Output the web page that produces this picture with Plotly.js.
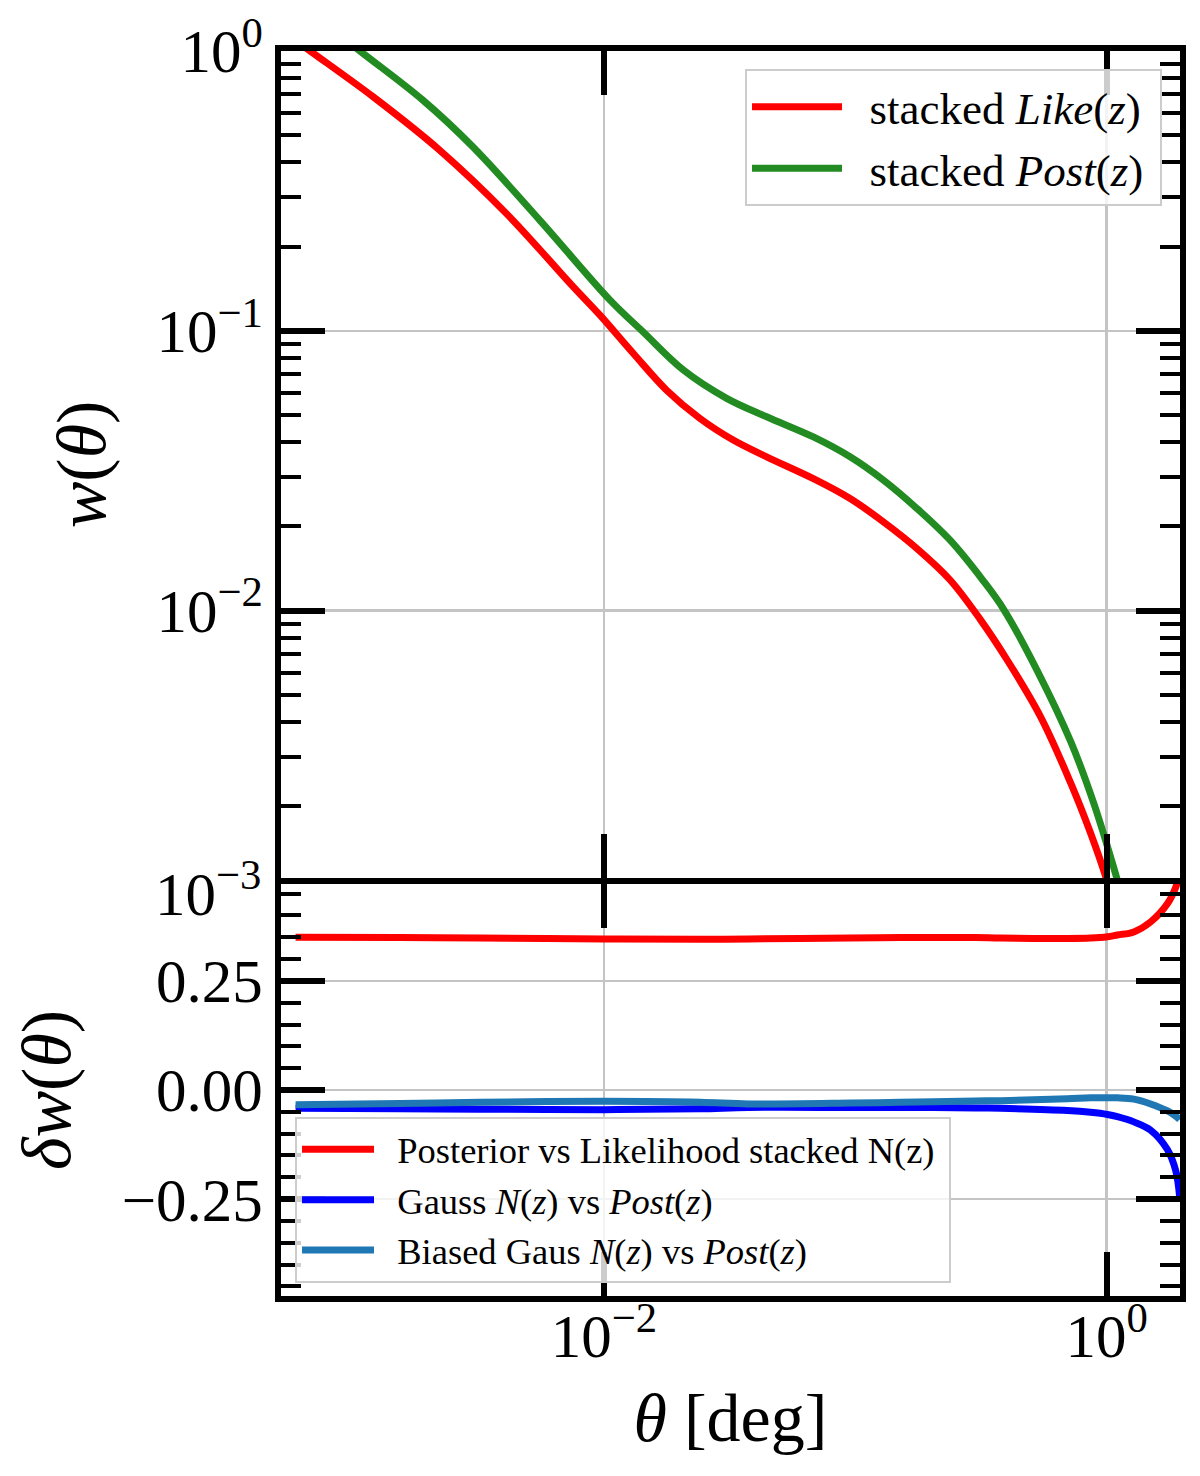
<!DOCTYPE html>
<html>
<head>
<meta charset="utf-8">
<script src="https://cdn.plot.ly/plotly-3.0.1.min.js"></script>
<style>html,body{margin:0;padding:0;background:#fff;}#chart{width:1200px;height:1476px;}</style>
</head>
<body>
<div id="chart"></div>
<script>
// ---- top panel: w(theta) ----
const likeTheta = [5.888e-4, 6.871e-4, 1.208e-3, 2.223e-3, 4.093e-3, 7.551e-3, 9.638e-3, 0.01309, 0.01774, 0.02410, 0.03266, 0.04436, 0.06808, 0.09528, 0.1291, 0.1754, 0.2382, 0.3133, 0.4018, 0.5458, 0.7194, 0.8630, 0.9908, 1.072];
const likeW     = [1.096, 0.9908, 0.6855, 0.4416, 0.2624, 0.1436, 0.1138, 0.08299, 0.06138, 0.04864, 0.04074, 0.03548, 0.02965, 0.02518, 0.02080, 0.01671, 0.01288, 0.009333, 0.006668, 0.004178, 0.002421, 0.001603, 0.001122, 0.000871];

const postTheta = [5.888e-4, 1.084e-3, 1.905e-3, 3.013e-3, 5.559e-3, 0.01057, 0.01432, 0.02070, 0.03076, 0.04436, 0.06808, 0.09528, 0.1291, 0.1754, 0.2382, 0.3228, 0.3890, 0.5284, 0.7194, 0.8892, 1.069, 1.148];
const postW     = [1.514, 0.9908, 0.6668, 0.4539, 0.2483, 0.1288, 0.09908, 0.07244, 0.05741, 0.04932, 0.04178, 0.03548, 0.02931, 0.02323, 0.01786, 0.01279, 0.01012, 0.006124, 0.003404, 0.002046, 0.001200, 0.000955];

// ---- bottom panel: delta w(theta) ----
const dTheta      = [5.93e-4, 1.54e-3, 3.2e-3, 0.01, 0.0241, 0.0375, 0.0955, 0.151, 0.30, 0.378, 0.697, 0.863, 1.007, 1.103, 1.282, 1.496, 1.746, 1.884, 1.95];
const dPostLike   = [0.350, 0.349, 0.348, 0.346, 0.345, 0.346, 0.348, 0.349, 0.349, 0.348, 0.347, 0.348, 0.351, 0.355, 0.362, 0.385, 0.427, 0.465, 0.495];
const dGauss      = [-0.042, -0.043, -0.044, -0.045, -0.043, -0.040, -0.040, -0.040, -0.041, -0.042, -0.047, -0.051, -0.056, -0.061, -0.073, -0.092, -0.137, -0.186, -0.244];
const dBiasedGaus = [-0.034, -0.031, -0.028, -0.026, -0.028, -0.032, -0.030, -0.028, -0.025, -0.0245, -0.020, -0.018, -0.0176, -0.018, -0.021, -0.032, -0.048, -0.060, -0.068];

// ---- tick labels ----
const xTickVals = [0.01, 1];
const xTickText = ['10<sup>−2</sup>', '10<sup>0</sup>'];
const wTickVals = [1, 0.1, 0.01];
const wTickText = ['10<sup>0</sup>', '10<sup>−1</sup>', '10<sup>−2</sup>'];
const wBottomLabel = '10<sup>−3</sup>';   // 10^-3 sits just below the visible top panel
const wMinorVals = [0.002,0.003,0.004,0.005,0.006,0.007,0.008,0.009,0.02,0.03,0.04,0.05,0.06,0.07,0.08,0.09,0.2,0.3,0.4,0.5,0.6,0.7,0.8,0.9];
const dTickVals = [-0.25, 0, 0.25];
const dTickText = ['−0.25', '0.00', '0.25'];

const FONT = 'Liberation Serif, Times New Roman, serif';
const LW = 7;
const SM = 1;
const PAD = '\u00A0\u00A0';
const TAIL = '\u00A0';

const traces = [
  {x: likeTheta, y: likeW, xaxis: 'x2', yaxis: 'y2', mode: 'lines', name: PAD + 'stacked <i>Like</i>(<i>z</i>)' + TAIL,
   line: {color: '#ff0000', width: LW, shape: 'spline', smoothing: SM}, legend: 'legend'},
  {x: postTheta, y: postW, xaxis: 'x2', yaxis: 'y2', mode: 'lines', name: PAD + 'stacked <i>Post</i>(<i>z</i>)' + TAIL,
   line: {color: '#228b22', width: LW, shape: 'spline', smoothing: SM}, legend: 'legend'},
  {x: dTheta, y: dPostLike, xaxis: 'x', yaxis: 'y', mode: 'lines', name: PAD + 'Posterior vs Likelihood stacked N(z)' + TAIL,
   line: {color: '#ff0000', width: LW, shape: 'spline', smoothing: 1}, legend: 'legend2'},
  {x: dTheta, y: dGauss, xaxis: 'x', yaxis: 'y', mode: 'lines', name: PAD + 'Gauss <i>N</i>(<i>z</i>) vs <i>Post</i>(<i>z</i>)',
   line: {color: '#0000ff', width: LW, shape: 'spline', smoothing: 1}, legend: 'legend2'},
  {x: dTheta, y: dBiasedGaus, xaxis: 'x', yaxis: 'y', mode: 'lines', name: PAD + 'Biased Gaus <i>N</i>(<i>z</i>) vs <i>Post</i>(<i>z</i>)',
   line: {color: '#1f77b4', width: LW, shape: 'spline', smoothing: 1}, legend: 'legend2'}
];

const GRID = '#c4c4c4';
const commonX = {
  type: 'log', range: [-3.285, 0.2916], tickmode: 'array', tickvals: xTickVals,
  ticks: 'inside', ticklen: 44, tickwidth: 6, tickcolor: '#000',
  showline: true, linewidth: 6, linecolor: '#000', mirror: 'ticks',
  showgrid: true, gridcolor: GRID, gridwidth: 2.5, zeroline: false
};

const layout = {
  width: 1200, height: 1476,
  margin: {l: 281, r: 20, t: 51, b: 180},
  paper_bgcolor: '#fff', plot_bgcolor: '#fff',
  font: {family: FONT, color: '#000', size: 60},
  showlegend: true,
  xaxis: Object.assign({}, commonX, {
    anchor: 'y', domain: [0, 1], ticktext: xTickText, ticklabelstandoff: -18,
    tickfont: {family: FONT, size: 61, color: '#000'},
    title: {text: '<i>θ</i> [deg]', font: {family: FONT, size: 68, color: '#000'}, standoff: 26}
  }),
  xaxis2: Object.assign({}, commonX, {
    anchor: 'y2', matches: 'x', showticklabels: false
  }),
  yaxis: {
    anchor: 'x', domain: [0, 0.33092], range: [-0.4718, 0.4718],
    tickmode: 'array', tickvals: dTickVals, ticktext: dTickText,
    ticks: 'inside', ticklen: 44, tickwidth: 6, tickcolor: '#000',
    minor: {tickmode: 'linear', tick0: 0, dtick: 0.05, ticks: 'inside', ticklen: 20, tickwidth: 4, tickcolor: '#000', showgrid: false},
    showline: true, linewidth: 6, linecolor: '#000', mirror: 'ticks',
    showgrid: true, gridcolor: GRID, gridwidth: 2.5, zeroline: false,
    tickfont: {family: FONT, size: 61, color: '#000'},
    title: {text: '<i>δw</i>(<i>θ</i>)', font: {family: FONT, size: 70, color: '#000'}, standoff: 30}
  },
  yaxis2: {
    anchor: 'x2', domain: [0.33574, 1], type: 'log', range: [-2.955, 0],
    tickmode: 'array', tickvals: wTickVals, ticktext: wTickText,
    ticks: 'inside', ticklen: 44, tickwidth: 6, tickcolor: '#000',
    minor: {tickmode: 'array', tickvals: wMinorVals, ticks: 'inside', ticklen: 20, tickwidth: 4, tickcolor: '#000', showgrid: false},
    showline: true, linewidth: 6, linecolor: '#000', mirror: 'ticks',
    showgrid: true, gridcolor: GRID, gridwidth: 2.5, zeroline: false,
    tickfont: {family: FONT, size: 61, color: '#000'},
    title: {text: '<i>w</i>(<i>θ</i>)', font: {family: FONT, size: 70, color: '#000'}, standoff: 30}
  },
  annotations: [
    {text: wBottomLabel, xref: 'paper', yref: 'paper', x: -0.0200, y: 0.3269, xanchor: 'right', yanchor: 'middle',
     showarrow: false, font: {family: FONT, size: 61, color: '#000'}}
  ],
  legend: {
    x: 0.980, xanchor: 'right', y: 0.98554, yanchor: 'top',
    bgcolor: 'rgba(255,255,255,0.8)', bordercolor: '#cccccc', borderwidth: 2,
    font: {family: FONT, size: 45, color: '#000'}, itemwidth: 90, tracegroupgap: 0
  },
  legend2: {
    x: 0.0156, xanchor: 'left', y: 0.14378, yanchor: 'top',
    bgcolor: 'rgba(255,255,255,0.8)', bordercolor: '#cccccc', borderwidth: 2,
    font: {family: FONT, size: 36.5, color: '#000'}, itemwidth: 72, tracegroupgap: 0
  }
};

Plotly.newPlot('chart', traces, layout, {displayModeBar: false, staticPlot: true});
</script>
</body>
</html>
